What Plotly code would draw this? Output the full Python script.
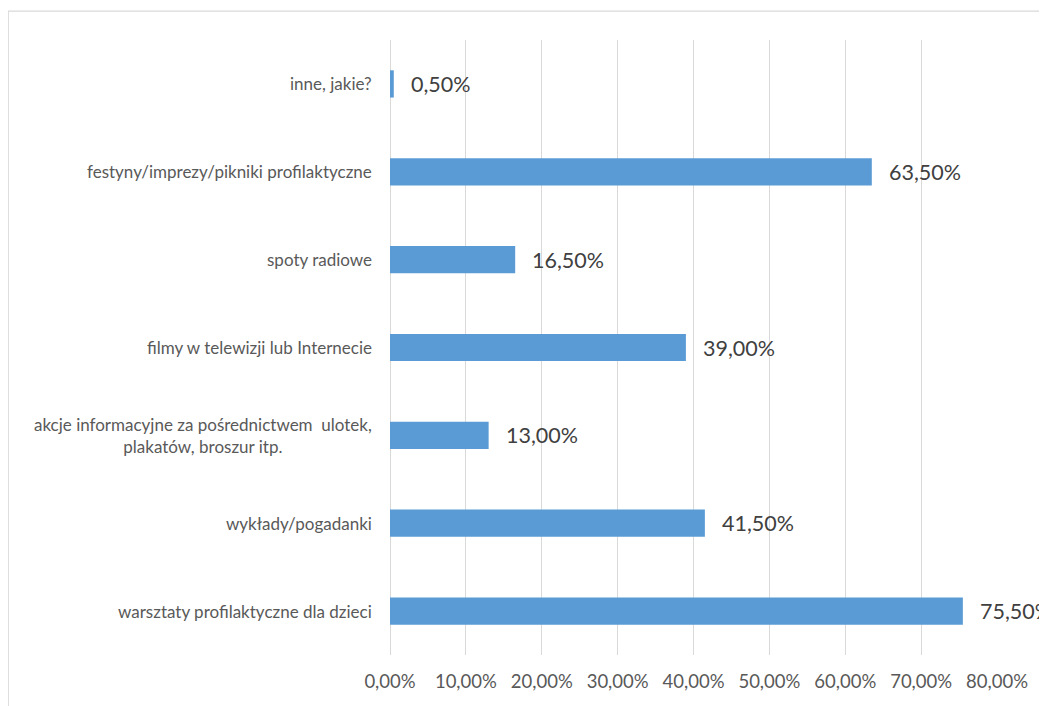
import plotly.graph_objects as go

categories = [
    "warsztaty profilaktyczne dla dzieci",
    "wykłady/pogadanki",
    "akcje informacyjne za pośrednictwem  ulotek,<br>plakatów, broszur itp.",
    "filmy w telewizji lub Internecie",
    "spoty radiowe",
    "festyny/imprezy/pikniki profilaktyczne",
    "inne, jakie?",
]
values = [0.755, 0.415, 0.13, 0.39, 0.165, 0.635, 0.005]
tick_values = [0, 0.1, 0.2, 0.3, 0.4, 0.5, 0.6, 0.7, 0.8]

FONT = "Lato"
TXT = "#595959"
BAR = "#5B9BD5"

fig = go.Figure()
fig.add_trace(go.Bar(
    y=categories, x=values, orientation="h",
    marker=dict(color=BAR, line=dict(width=0)),
    hoverinfo="skip",
))

annotations = []
for c, v in zip(categories, values):
    annotations.append(dict(
        x=v, y=c, xref="x", yref="y", text=f"{v*100:.2f}%".replace(".", ","),
        showarrow=False, xanchor="left", xshift=15,
        font=dict(family=FONT, size=21.5, color="#404040"),
    ))
    annotations.append(dict(
        x=0, y=c, xref="paper", yref="y", text=c,
        showarrow=False, xanchor="right", xshift=-16, align="center",
        font=dict(family=FONT, size=17, color=TXT),
    ))

fig.update_layout(
    width=1047, height=706,
    margin=dict(l=382, r=58, t=32, b=59),
    paper_bgcolor="white", plot_bgcolor="white",
    separators=", ",
    showlegend=False,
    bargap=0.69,
    annotations=annotations,
    xaxis=dict(
        range=[0, 0.8], tickvals=tick_values, tickformat=".2%",
        showgrid=True, gridcolor="#D9D9D9", gridwidth=1.3,
        zeroline=True, zerolinecolor="#D9D9D9", zerolinewidth=1.3,
        showline=False, ticks="",
        tickfont=dict(family=FONT, size=18.5, color=TXT),
        ticklabelstandoff=13,
        fixedrange=True,
    ),
    yaxis=dict(
        categoryorder="array", categoryarray=categories,
        showticklabels=False, showgrid=False, zeroline=False, showline=False, ticks="",
        range=[-0.5, 6.5], fixedrange=True,
    ),
    shapes=[dict(
        type="rect", xref="paper", yref="paper",
        x0=-0.629, x1=1.3, y0=-0.3, y1=1.047,
        line=dict(color="#D9D9D9", width=1.3), fillcolor="rgba(0,0,0,0)", layer="below",
    )],
)
fig.update_traces(cliponaxis=False)

fig.write_html("out.html")
